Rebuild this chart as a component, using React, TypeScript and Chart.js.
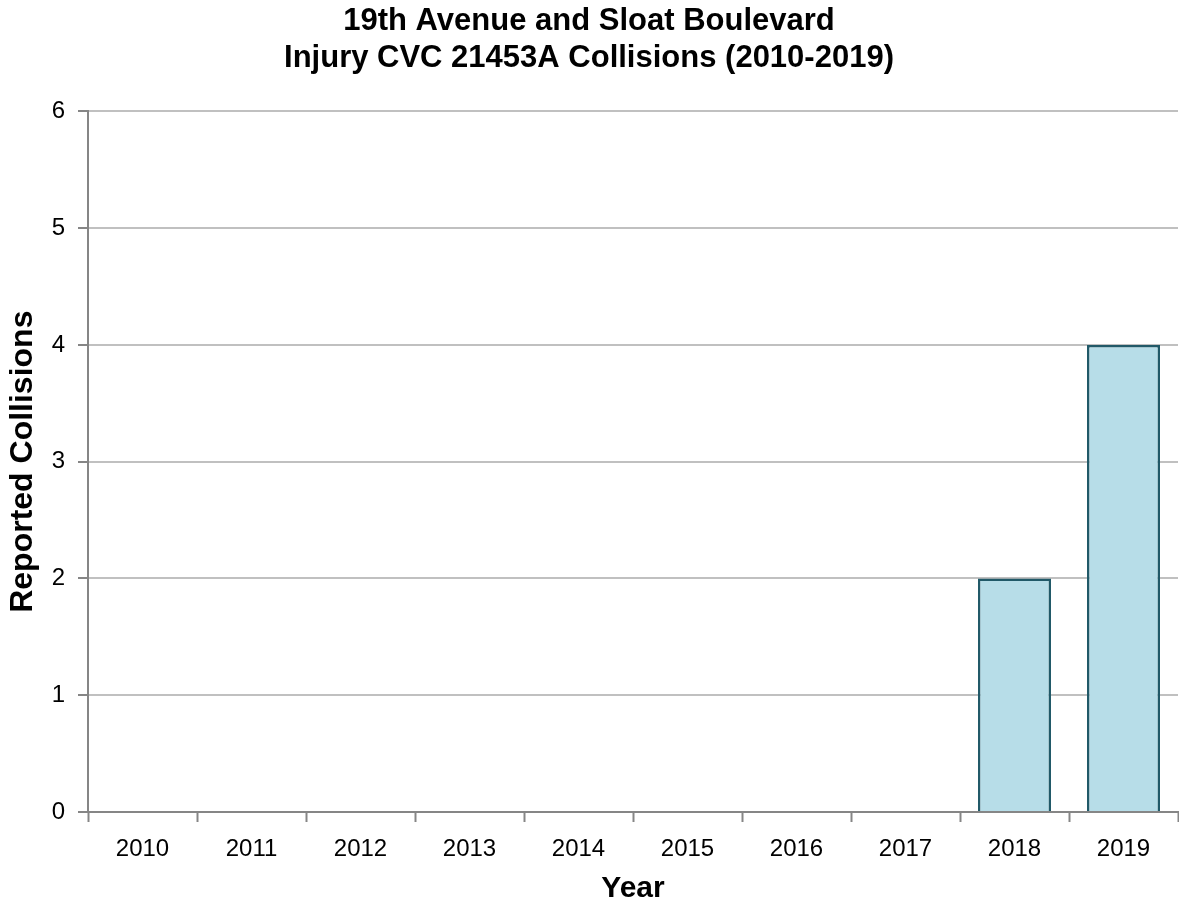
import React, { useEffect, useRef } from "react";
import { Chart, registerables } from "chart.js";

Chart.register(...registerables);

const categories = ["2010", "2011", "2012", "2013", "2014", "2015", "2016", "2017", "2018", "2019"];
const collisions = [0, 0, 0, 0, 0, 0, 0, 0, 2, 4];
const titleLines = ["19th Avenue and Sloat Boulevard", "Injury CVC 21453A Collisions (2010-2019)"];

const FONT = "'Liberation Sans', Arial, sans-serif";

export default function App() {
  const ref = useRef<HTMLCanvasElement | null>(null);
  useEffect(() => {
    document.body.style.margin = "0";
    const ctx = ref.current!;
    const chart = new Chart(ctx, {
      type: "bar",
      data: {
        labels: categories,
        datasets: [
          {
            data: collisions,
            backgroundColor: "#b7dde8",
            borderColor: "#215968",
            borderWidth: 2.5,
            categoryPercentage: 1,
            barPercentage: 0.67,
          },
        ],
      },
      options: {
        responsive: false,
        animation: false,
        devicePixelRatio: 1,
        layout: { padding: { left: 0, right: 1, top: 3, bottom: 0 } },
        plugins: {
          legend: { display: false },
          tooltip: { enabled: false },
          title: {
            display: true,
            text: titleLines,
            color: "#000",
            font: { family: FONT, size: 31, weight: "bold", lineHeight: 1.2 },
            padding: { top: 0, bottom: 34 },
          },
        },
        scales: {
          x: {
            grid: {
              offset: true,
              drawOnChartArea: false,
              drawTicks: true,
              tickLength: 10,
              tickColor: "#868686",
              tickWidth: 2,
            },
            border: { color: "#868686", width: 2 },
            ticks: {
              color: "#000",
              font: { family: FONT, size: 24 },
              padding: 13,
            },
            title: {
              display: true,
              text: "Year",
              color: "#000",
              font: { family: FONT, size: 30, weight: "bold" },
              padding: { top: 0, bottom: 0 },
            },
            afterFit: (s: any) => {
              s.height = 95;
            },
          },
          y: {
            min: 0,
            max: 6,
            ticks: {
              stepSize: 1,
              color: "#000",
              font: { family: FONT, size: 24 },
              padding: 13,
            },
            grid: {
              color: (c: any) => (c.tick && c.tick.value === 0 ? "#868686" : "#c0c0c0"),
              lineWidth: 2,
              tickLength: 10,
              tickColor: "#868686",
              tickWidth: 2,
            },
            border: { color: "#868686", width: 2 },
            title: {
              display: true,
              text: "Reported Collisions",
              color: "#000",
              font: { family: FONT, size: 32, weight: "bold" },
              padding: { top: 4, bottom: 0 },
            },
            afterFit: (s: any) => {
              s.width = 88;
            },
          },
        },
      },
    });
    return () => chart.destroy();
  }, []);
  return (
    <div style={{ width: 1179, height: 907, background: "#fff" }}>
      <canvas ref={ref} width={1179} height={907} style={{ display: "block" }} />
    </div>
  );
}
